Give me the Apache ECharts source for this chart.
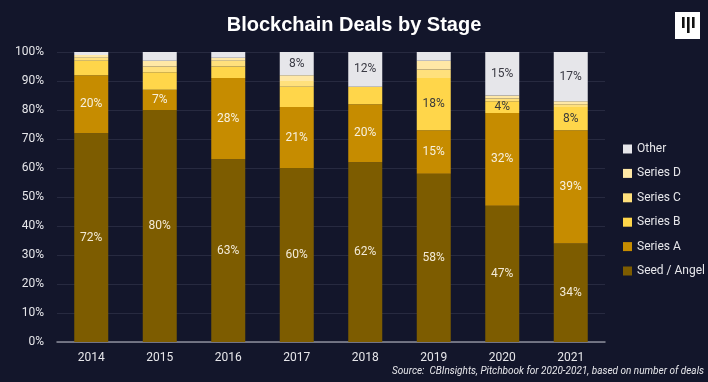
<!DOCTYPE html>
<html><head><meta charset="utf-8">
<script src="https://cdn.jsdelivr.net/npm/echarts@6/dist/echarts.min.js"></script>
<style>html,body{margin:0;padding:0;background:#13162b;}#c{width:708px;height:382px;}</style>
</head><body><div id="c"></div>
<script>
const years = ['2014','2015','2016','2017','2018','2019','2020','2021'];
const seed   = [72,80,63,60,62,58,47,34];
const seriesA = [20,7,28,21,20,15,32,39];
const seriesB = [5,6,4,7,6,18,4,8];
const seriesC = [1,2,2,2,0,3,1,1];
const seriesD = [1,2,1,2,0,3,1,1];
const other  = [1,3,2,8,12,3,15,17];
const showSeed = [1,1,1,1,1,1,1,1];
const showA = [1,1,1,1,1,1,1,1];
const showB = [0,0,0,0,0,1,1,1];
const showOther = [0,0,0,1,1,0,1,1];
const yTicks = [0,10,20,30,40,50,60,70,80,90,100];

const FONT = 'Roboto';
function mk(name, vals, shows, color, labelColor){
  return {
    name, type:'bar', stack:'s', barWidth:34,
    itemStyle:{color, borderWidth:0},
    data: vals.map((v,i)=>({value:v, label:{show: !!(shows && shows[i])}})),
    label:{position:'inside', formatter:'{c}%', color:labelColor, fontSize:12, fontFamily:FONT},
    emphasis:{disabled:true}
  };
}
const chart = echarts.init(document.getElementById('c'));
chart.setOption({
  backgroundColor:'#13162b',
  animation:false,
  title:{text:'Blockchain Deals by Stage', left:'center', top:10,
    textStyle:{color:'#ffffff', fontSize:20, fontWeight:'bold', fontFamily:'Liberation Sans'}},
  grid:{left:57, right:103, top:52, bottom:40},
  legend:{orient:'vertical', left:618, top:138, itemWidth:9, itemHeight:9, itemGap:12.4, itemStyle:{borderWidth:0},
    icon:'rect', textStyle:{color:'#e6e6ea', fontSize:12, fontFamily:FONT, overflow:'none', width:90},
    data:['Other','Series D','Series C','Series B','Series A','Seed / Angel']},
  xAxis:{type:'category', data:years,
    axisLine:{lineStyle:{color:'#8d8f9c', width:1.5}}, axisTick:{show:false},
    axisLabel:{color:'#e6e6ea', fontSize:12, fontFamily:FONT, margin:10}},
  yAxis:{type:'value', min:yTicks[0], max:yTicks[yTicks.length-1], interval:10,
    axisLabel:{formatter:'{value}%', color:'#e6e6ea', fontSize:12, fontFamily:FONT, margin:13},
    splitLine:{lineStyle:{color:'#272a40', width:1}}, axisLine:{show:false}, axisTick:{show:false}},
  series:[
    mk('Seed / Angel', seed, showSeed, '#7d5c00', '#f3ead6'),
    mk('Series A', seriesA, showA, '#c68c00', '#f7f0de'),
    mk('Series B', seriesB, showB, '#ffd64a', '#3a3a3a'),
    mk('Series C', seriesC, null, '#ffe07c', '#333'),
    mk('Series D', seriesD, null, '#ffe8a6', '#333'),
    mk('Other', other, showOther, '#e6e6ea', '#3a3a44')
  ],
  graphic:[
    {type:'rect', shape:{x:675, y:12, width:25, height:27}, style:{fill:'#ffffff'}},
    {type:'rect', shape:{x:682, y:17, width:2.6, height:11}, style:{fill:'#111'}},
    {type:'rect', shape:{x:687, y:17, width:2.6, height:16}, style:{fill:'#111'}},
    {type:'rect', shape:{x:692, y:17, width:2.6, height:11}, style:{fill:'#111'}},
    {type:'text', right:4, top:366, style:{text:'Source:  CBInsights, Pitchbook for 2020-2021, based on number of deals',
      fill:'#e6e6ea', fontSize:10, fontStyle:'italic', fontFamily:FONT}}
  ]
});
</script></body></html>
